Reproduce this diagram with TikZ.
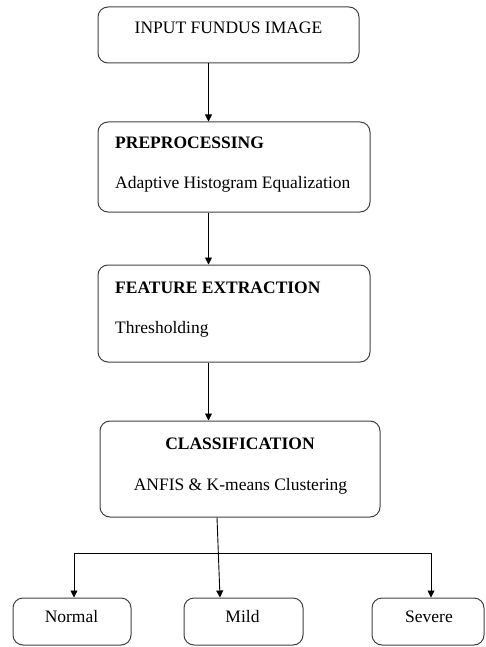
\documentclass[tikz,border=0pt]{standalone}
\usepackage{fontspec}
\setmainfont{Liberation Serif}
\usetikzlibrary{arrows.meta, positioning, calc}

\begin{document}
\begin{tikzpicture}[
    x=1pt, y=-1pt,
    >={Triangle[length=7pt, width=7pt]}, % filled arrow heads
    stage/.style={draw=black!75, line width=1pt, rounded corners=10pt, inner sep=0pt}, % rounded boxes
    txt/.style={inner sep=0pt, font=\fontsize{17.5}{21}\selectfont}, % plain text
    head/.style={inner sep=0pt, font=\fontsize{17.5}{21}\selectfont\bfseries}, % bold headings
    flow/.style={->, line width=0.9pt} % connectors
]

    % === Page size ===
    \useasboundingbox (0,0) rectangle (485,647);

    % === Boxes ===
    \node[stage, minimum width=261pt, minimum height=56pt] (input)  at (228.5,35) {};
    \node[stage, minimum width=272pt, minimum height=90pt] (prep)   at (234,167) {};
    \node[stage, minimum width=272pt, minimum height=97pt] (feat)   at (234,313.5) {};
    \node[stage, minimum width=280pt, minimum height=96pt] (class)  at (240,469) {};
    \node[stage, minimum width=118pt, minimum height=47pt] (normal) at (72,621.5) {};
    \node[stage, minimum width=119pt, minimum height=47pt] (mild)   at (243.5,621.5) {};
    \node[stage, minimum width=112pt, minimum height=47pt] (severe) at (428,621.5) {};

    % === Texts ===
    \node[txt, anchor=base] (inputtext) at (228.5,34) {INPUT FUNDUS IMAGE};

    \node[head, anchor=base west] (prephead) at (115,149) {PREPROCESSING};
    \node[txt, anchor=base west] (prepbody) at (115,189) {Adaptive Histogram Equalization};

    \node[head, anchor=base west] (feathead) at (115,293) {FEATURE EXTRACTION};
    \node[txt, anchor=base west] (featbody) at (115,333) {Thresholding};

    \node[head, anchor=base] (classhead) at (240,449) {CLASSIFICATION};
    \node[txt, anchor=base] (classbody) at (240.5,490) {ANFIS \& K-means Clustering};

    \node[txt, anchor=base] (normaltext) at (71.5,622) {Normal};
    \node[txt, anchor=base] (mildtext)   at (242.5,622) {Mild};
    \node[txt, anchor=base] (severetext) at (429,622) {Severe};

    % === Connectors ===
    \coordinate (spine) at (208.5,0);
    \coordinate (split) at (218.5,553);

    \draw[flow] (input.south -| spine) -- (prep.north -| spine);
    \draw[flow] (prep.south -| spine) -- (feat.north -| spine);
    \draw[flow] (feat.south -| spine) -- (class.north -| spine);

    % fork to the three grades
    \draw[flow] (class.south -| 217,0) -- (mild.north -| 220,0);
    \draw[flow] (split) -| (normal.north -| 74,0);
    \draw[flow] (split) -| (severe.north -| 431,0);

\end{tikzpicture}
\end{document}
